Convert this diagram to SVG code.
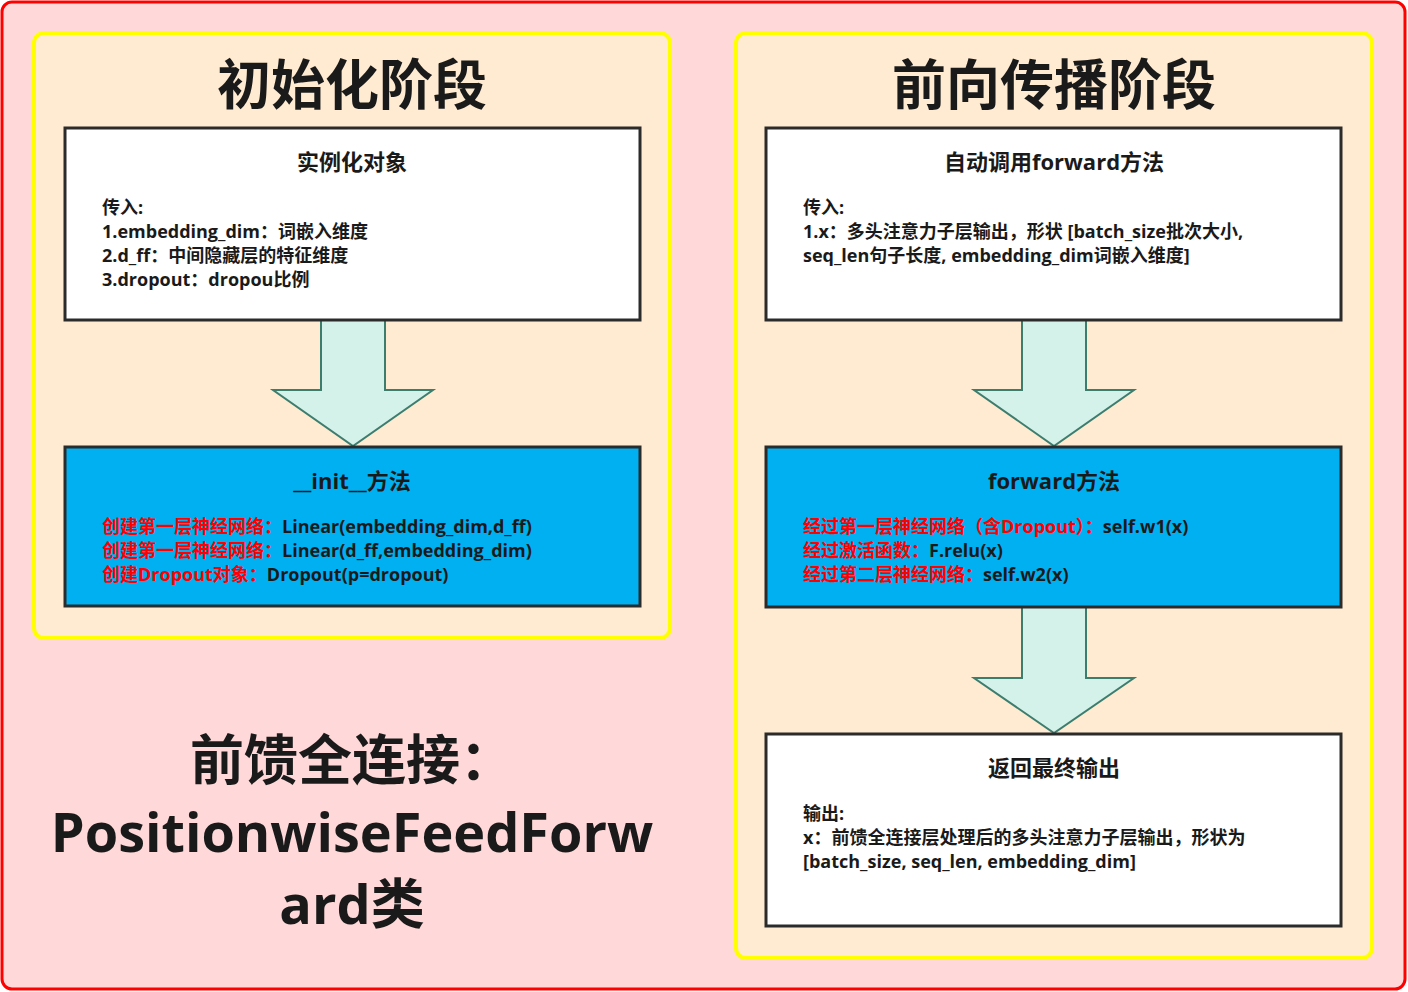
<svg xmlns="http://www.w3.org/2000/svg" width="1408" height="992" viewBox="0 0 1408 992">
<style>
text{font-family:"Open Sans","Noto Sans CJK SC",sans-serif;font-weight:bold;fill:#1a1a1a}
.panel{fill:#ffebd1;stroke:#ffff00;stroke-width:4}
.box{stroke:#2b2b2b;stroke-width:3}
.w{fill:#ffffff}.b{fill:#00b0f0}
.arr{fill:#d4f2ea;stroke:#3d7d6e;stroke-width:2}
.h{font-size:22px;text-anchor:middle}
.t{font-size:18px}
.r{fill:#ff0000}
.big{font-size:54px;text-anchor:middle}
</style>
<rect x="2" y="2" width="1403" height="987" rx="10" fill="#ffd9d9" stroke="#ff0000" stroke-width="3"/>
<g id="left-panel">
<rect class="panel" x="34" y="33" width="636" height="605" rx="10"/>
<text class="big" x="352" y="105">初始化阶段</text>
</g>
<g id="right-panel">
<rect class="panel" x="736" y="33" width="636" height="925" rx="10"/>
<text class="big" x="1054" y="105">前向传播阶段</text>
</g>
<g id="connectors">
<path class="arr" d="M321 320 V390 H273 L353 446 L433 390 H385 V320 Z"/>
<path class="arr" d="M1022 320 V390 H974 L1054 446 L1134 390 H1086 V320 Z"/>
<path class="arr" d="M1022 607 V678 H974 L1054 733 L1134 678 H1086 V607 Z"/>
</g>
<g id="n1">
<rect class="box w" x="65" y="128" width="575" height="192"/>
<text class="h" x="352" y="170">实例化对象</text>
<text class="t" x="102" y="214">传入:</text>
<text class="t" x="102" y="238">1.embedding_dim：词嵌入维度</text>
<text class="t" x="102" y="262">2.d_ff：中间隐藏层的特征维度</text>
<text class="t" x="102" y="286">3.dropout：dropou比例</text>
</g>
<g id="n2">
<rect class="box b" x="65" y="447" width="575" height="159"/>
<text class="h" x="352" y="489">__init__方法</text>
<text class="t" x="102" y="533"><tspan class="r">创建第一层神经网络：</tspan>Linear(embedding_dim,d_ff)</text>
<text class="t" x="102" y="557"><tspan class="r">创建第一层神经网络：</tspan>Linear(d_ff,embedding_dim)</text>
<text class="t" x="102" y="581"><tspan class="r">创建Dropout对象：</tspan>Dropout(p=dropout)</text>
</g>
<g id="n3">
<rect class="box w" x="766" y="128" width="575" height="192"/>
<text class="h" x="1054" y="170">自动调用forward方法</text>
<text class="t" x="803" y="214">传入:</text>
<text class="t" x="803" y="238">1.x：多头注意力子层输出，形状 [batch_size批次大小,</text>
<text class="t" x="803" y="262">seq_len句子长度, embedding_dim词嵌入维度]</text>
</g>
<g id="n4">
<rect class="box b" x="766" y="447" width="575" height="160"/>
<text class="h" x="1054" y="489">forward方法</text>
<text class="t" x="803" y="533"><tspan class="r">经过第一层神经网络（含Dropout）：</tspan>self.w1(x)</text>
<text class="t" x="803" y="557"><tspan class="r">经过激活函数：</tspan>F.relu(x)</text>
<text class="t" x="803" y="581"><tspan class="r">经过第二层神经网络：</tspan>self.w2(x)</text>
</g>
<g id="n5">
<rect class="box w" x="766" y="734" width="575" height="192"/>
<text class="h" x="1054" y="776">返回最终输出</text>
<text class="t" x="803" y="820">输出:</text>
<text class="t" x="803" y="844">x：前馈全连接层处理后的多头注意力子层输出，形状为</text>
<text class="t" x="803" y="868">[batch_size, seq_len, embedding_dim]</text>
</g>
<g id="title">
<text class="big" x="352" y="780">前馈全连接：</text>
<text class="big" x="352" y="852">PositionwiseFeedForw</text>
<text class="big" x="352" y="924">ard类</text>
</g>
</svg>
